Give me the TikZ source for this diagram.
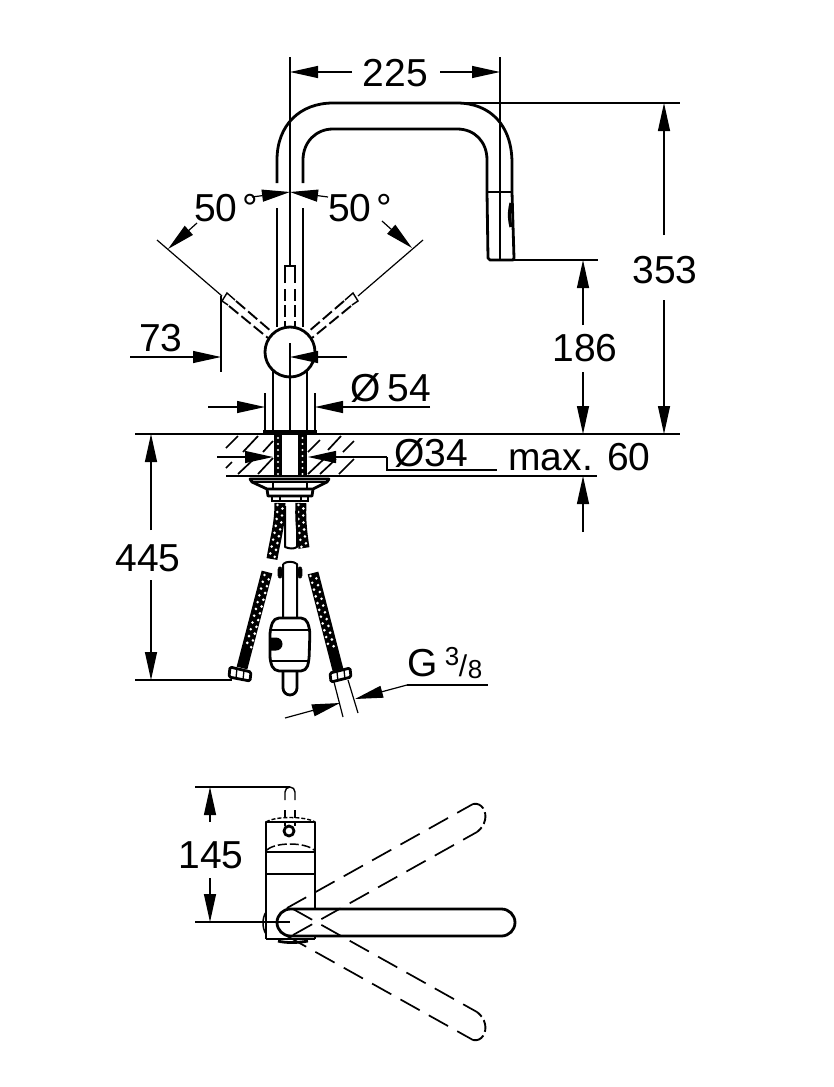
\documentclass[tikz,border=0pt]{standalone}
\usepackage{fontspec}
\setmainfont{Liberation Sans}
\usetikzlibrary{arrows.meta,calc}
\tikzset{
 thin line/.style={line width=1.2pt,line cap=butt},
 thick line/.style={line width=2.8pt,line join=round},
 med line/.style={line width=2pt,line join=round},
 dimarrow/.style={line width=1.2pt,-{Triangle[length=28pt,width=12pt]}},
 lab/.style={font=\fontsize{39}{40}\selectfont,inner sep=0pt,anchor=base},
 dashA/.style={line width=1.7pt,dash pattern=on 22pt off 10.5pt},
 dashB/.style={line width=1.9pt,dash pattern=on 12pt off 4pt},
 hose/.style={line width=11pt,black},
 dots/.style={white,line width=2.9pt,line cap=round,dash pattern=on 0pt off 7pt},
 hatch/.style={line width=1.7pt},
}
\begin{document}
\begin{tikzpicture}[x=1pt,y=-1pt]
\useasboundingbox (0,0) rectangle (834,1087);
% ---- spout
\draw[thick line] (277,183) -- (277,160) .. controls (277,125) and (300,103) .. (333,103) -- (457,103)
  .. controls (490,103) and (512,125) .. (512,163) -- (512,192) -- (514,258) -- (513,260) -- (490,260) -- (488,258) -- (487,192) -- (487,160)
  .. controls (487,142) and (475,129) .. (457,129) -- (333,129) .. controls (316,129) and (303,142) .. (303,160) -- (303,183);
\draw[thick line] (487,192) -- (512,192);
\draw[line width=3.2pt] (511,203) .. controls (509,212) and (509,218) .. (511,227);
\draw[thick line] (277,208) -- (277,327) (303,208) -- (303,327);
\draw[thick line] (290,352) circle (25);
\draw[thick line] (273,371) -- (273,430) (307,371) -- (307,430);
% centre lines
\draw[thin line] (290,57) -- (290,266) (290,343) -- (290,432);
\draw[thin line] (500,57) -- (500,260);
\draw[thin line] (457,103) -- (680,103);
\draw[thin line] (514,260) -- (598,260);
% dashed lever positions
\draw[line width=1.4pt] (285,283) -- (285,266) -- (295,266) -- (295,283);
\draw[dashB] (285,289) -- (285,327) (295,289) -- (295,327);
\draw[thin line] (157,240) -- (222,296);
\draw[thin line] (423,240) -- (358,296);
\draw[line width=1.4pt] (228,305) -- (222,301) -- (227,293) -- (235,300);
\draw[line width=1.4pt] (352,305) -- (358,301) -- (353,293) -- (345,300);
\draw[dashB] (236,301) -- (272,332) (229,306) -- (268,338);
\draw[dashB] (344,301) -- (308,332) (351,306) -- (312,338);
% ---- 225
\draw[dimarrow] (352,72) -- (290,72);
\draw[dimarrow] (440,72) -- (500,72);
\node[lab] (t225) at (395.5,86) {225};
% ---- 50 deg
\draw[dimarrow] (252,197) -- (290,192);
\draw[dimarrow] (328,197) -- (290,192);
\draw[dimarrow] (197,223) -- (168,249);
\draw[dimarrow] (382,221) -- (412,248);
\node[lab] (t50a) at (226,221) {50\kern5pt°};
\node[lab] (t50b) at (360,221) {50\kern5pt°};
% ---- 73
\draw[thin line] (221,296) -- (221,372);
\draw[dimarrow] (130,357) -- (221,357);
\draw[dimarrow] (347,357) -- (290,357);
\node[lab] (t73) at (161,351) {73};
% ---- 54
\draw[thin line] (265,393) -- (265,430) (315,393) -- (315,430);
\draw[dimarrow] (208,407) -- (265,407);
\draw[dimarrow] (430,407) -- (315,407);
\node[lab] (t54) at (391,401) {Ø\kern7pt54};
% ---- counter
\draw[thin line] (135,434) -- (680,434);
\draw[thin line] (354,476) -- (597,476);
\draw[thick line] (263,431.5) -- (317,431.5);
\draw[line width=2.6pt] (226,434) -- (354,434) (226,476) -- (354,476);
\foreach \a/\b/\c/\d in {226/448/238/436, 243/452/258/436, 263/452/273/441, 226/468/232/462, 238/474/255/458, 258/474/273/458,
  308/452/320/440, 328/450/341/436, 343/452/354/441, 308/474/325/458, 320/474/336/459, 339/474/354/459}
  \draw[hatch] (\a,\b) -- (\c,\d);
% threaded stud
\draw[line width=8.5pt] (278,434) -- (278,476) (302.5,434) -- (302.5,476);
\draw[white,line width=2.4pt,line cap=round,dash pattern=on 0pt off 6pt] (278,438) -- (278,476) (302.5,438) -- (302.5,476);
% ---- 34
\draw[dimarrow] (217,457) -- (273,457);
\draw[dimarrow] (387,457) -- (308,457);
\draw[thin line] (387,457) -- (387,470) -- (497,470);
\node[lab] (t34) at (431.5,466) {Ø34};
\node[lab] (t60) at (579.5,470) {max. 60};
% ---- flange below counter
\draw[thick line] (250,479) -- (329,479) -- (327,482) -- (313,489) -- (267,489) -- (252,482) -- cycle;
\draw[thin line] (252,482) -- (327,482) (273,482) -- (273,489) (307,482) -- (307,489);
\draw[thick line] (267,489) -- (268,496) -- (312,496) -- (313,489);
\draw[line width=1.4pt] (272,497) -- (272,501) -- (308,501) -- (308,497) (280,497) -- (280,501) (301,497) -- (301,501);
% ---- hoses
\draw[hose] (280,503) .. controls (280,525) and (275,540) .. (272,559);
\draw[dots] (277.5,505) .. controls (277.5,525) and (272.5,540) .. (269.5,558);
\draw[dots,dash phase=3.5pt] (282.5,505) .. controls (282.5,525) and (277.5,540) .. (274.5,558);
\draw[hose] (301,503) .. controls (300,520) and (302,535) .. (304,548);
\draw[dots] (298.5,505) .. controls (297.5,520) and (299.5,535) .. (301.5,547);
\draw[dots,dash phase=3.5pt] (303.5,505) .. controls (302.5,520) and (304.5,535) .. (306.5,547);
\draw[med line] (285,506) -- (285,547) .. controls (290,549) and (294,549) .. (297,547) -- (297,506);
% lower hoses
\draw[hose] (267,572) -- (242,668);
\draw[dots] (264.5,575) -- (246,648);
\draw[dots,dash phase=3.5pt] (269.5,576) -- (251,648);
\draw[hose] (313,573) -- (338,670);
\draw[dots] (310.5,576) -- (329,648);
\draw[dots,dash phase=3.5pt] (315.5,575) -- (334,648);
\draw[thick line,fill=white,rounded corners=1.5pt] (230,667) -- (251,672) -- (250,681) -- (229,677) -- cycle;
\draw[thick line,fill=white,rounded corners=1.5pt] (330,673) -- (350,668) -- (351,677) -- (331,682) -- cycle;
\draw[line width=1.3pt] (237,668) -- (236,678) (244,670) -- (243,680) (337,672) -- (338,681) (344,670) -- (345,679);
\draw[thin line] (334,682) -- (343,717) (348,680) -- (358,713);
% ---- lower pipe and box
\draw[med line] (283,564) .. controls (287,561) and (293,561) .. (297,564) -- (297,618) (283,564) -- (283,618);
\draw[thick line,rounded corners=1.5pt] (281,568) rectangle (279,577) (299,568) rectangle (301,577);
\draw[thick line,rounded corners=5pt] (274,618) -- (306,618) -- (310,630) -- (309,661) -- (306,671) -- (274,671) -- (270,661) -- (270,630) -- cycle;
\draw[med line] (270,630) -- (310,630) (270,661) -- (310,661);
\fill (270,637.5) -- (276,637.5) arc[start angle=90,end angle=-90,radius=6.5pt] -- (270,650.5) -- cycle;
\draw[thick line] (283,671) -- (283,688) arc[start angle=180,end angle=360,radius=7pt] -- (297,671);
\draw[dimarrow] (285,718) -- (340,703);
\draw[dimarrow] (407,685) -- (355,699);
\draw[thin line] (407,685) -- (488,685);
\node[lab] (tG) at (423,676) {G};
\node[lab,font=\fontsize{26}{26}\selectfont] (t3) at (452,665) {3};
\node[lab,font=\fontsize{30}{30}\selectfont] (tslash) at (463,676) {/};
\node[lab,font=\fontsize{26}{26}\selectfont] (t8) at (475,678) {8};
% ---- 445
\draw[thin line] (135,680) -- (232,680);
\draw[dimarrow] (151,530) -- (151,434);
\draw[dimarrow] (151,580) -- (151,680);
\node[lab] (t445) at (148,571) {445};
% ---- 186 / 353
\draw[dimarrow] (583,325) -- (583,260);
\draw[dimarrow] (583,372) -- (583,434);
\node[lab] (t186) at (585,361) {186};
\draw[dimarrow] (583,532) -- (583,476);
\draw[dimarrow] (664,235) -- (664,103);
\draw[dimarrow] (664,300) -- (664,434);
\node[lab] (t353) at (665,283) {353};
% ---- plan view
\draw[thin line] (195,787) -- (290,787);
\draw[dimarrow] (210,822) -- (210,787);
\draw[dimarrow] (210,878) -- (210,922);
\node[lab] (t145) at (211,868) {145};
\draw[line width=1.4pt] (285,800) -- (285,792) arc[start angle=180,end angle=0,radius=5pt] -- (295,800);
\draw[line width=1.4pt,dash pattern=on 8pt off 4pt] (285,810) -- (285,826) (295,810) -- (295,826);
\draw[thick line] (266,939) -- (266,822) -- (315,822) -- (315,939);
\draw[line width=1.4pt,dash pattern=on 4pt off 2pt] (266,822) .. controls (275,816) and (305,816) .. (315,822);
\draw[thick line] (289,831) circle (5);
\draw[line width=1.5pt,dash pattern=on 9pt off 3pt] (267,850) .. controls (275,842) and (305,842) .. (314,850);
\draw[thick line] (266,852) -- (315,852) (266,874) -- (315,874);
\draw[thick line] (266,939) -- (315,939);
\draw[thick line] (278,941) .. controls (285,943) and (298,943) .. (308,941);
\draw[line width=1.5pt] (266,912) .. controls (262,918) and (262,928) .. (266,934);
\draw[thick line,fill=white] (290.5,909) -- (501.5,909) arc[start angle=90,end angle=-90,radius=13.5pt] -- (290.5,936) arc[start angle=270,end angle=90,radius=13.5pt] -- cycle;
\draw[thin line] (195,922) -- (290,922);
\draw[dashA] (287,908) -- (473,804) (293,935) -- (477,832);
\draw[dashA] (287,936) -- (473,1040) (293,909) -- (477,1012);
\draw[dashB] (473,804) .. controls (482,802) and (487,812) .. (485,820) .. controls (484,825) and (481,829) .. (477,832);
\draw[dashB] (473,1040) .. controls (482,1042) and (487,1032) .. (485,1024) .. controls (484,1019) and (481,1015) .. (477,1012);
\end{tikzpicture}
\end{document}
